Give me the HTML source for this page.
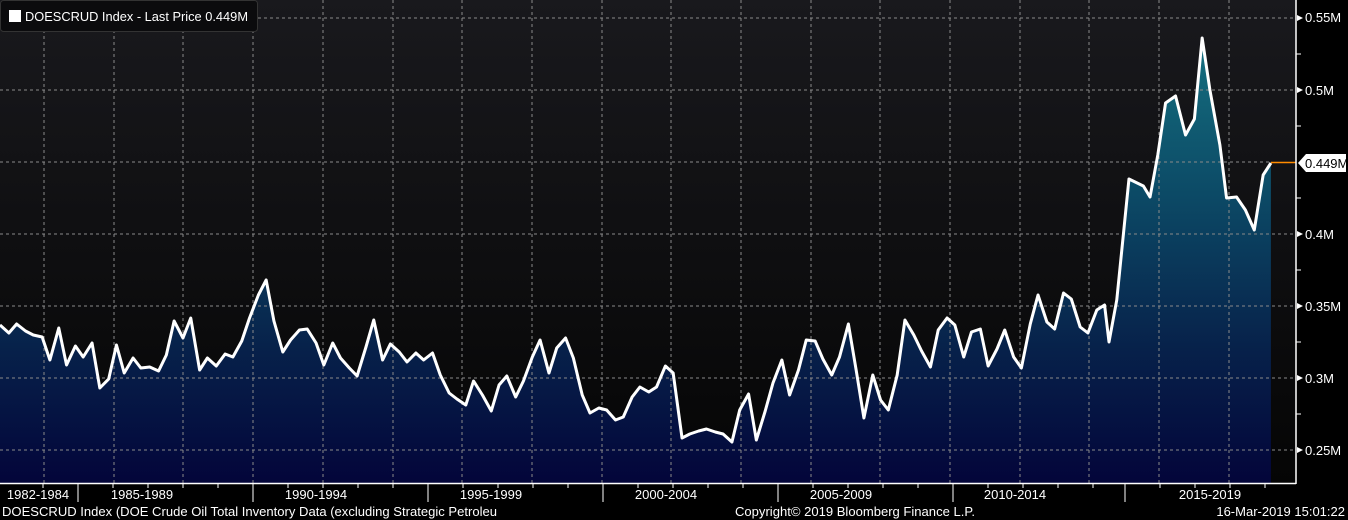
<!DOCTYPE html>
<html><head><meta charset="utf-8"><style>
html,body{margin:0;padding:0;background:#000;width:1348px;height:520px;overflow:hidden}
svg{display:block}
text{font-family:"Liberation Sans",sans-serif;font-size:13px;fill:#fff}
</style></head><body>
<svg width="1348" height="520" viewBox="0 0 1348 520" xmlns="http://www.w3.org/2000/svg">
<defs>
<linearGradient id="bg" x1="0" y1="0" x2="0" y2="1">
<stop offset="0" stop-color="#19191d"/><stop offset="1" stop-color="#050505"/></linearGradient>
<linearGradient id="fill" x1="0" y1="38" x2="0" y2="483" gradientUnits="userSpaceOnUse">
<stop offset="0" stop-color="#157080"/><stop offset="0.35" stop-color="#0c4a66"/><stop offset="0.7" stop-color="#07214a"/><stop offset="1" stop-color="#03053a"/></linearGradient>
</defs>
<rect x="0" y="0" width="1296" height="483" fill="url(#bg)"/>
<g transform="scale(1.109,1)">
<polygon fill="url(#fill)" points="0,483 0,325 8,333 15,324 23,331 30,335 38,337 45,360 53,328 60,365 68,346 75,357 83,343 90,388 98,379 105,345 112,373 120,358 127,368 135,367 143,371 150,355 157,321 165,338 172,318 180,370 187,358 195,366 203,354 210,357 218,341 225,318 233,295 240,280 247,321 255,352 262,340 270,330 277,329 285,343 292,365 300,343 307,358 315,368 322,376 330,347 337,320 345,360 352,344 360,352 367,362 375,353 382,360 390,353 397,375 405,393 412,399 420,405 427,381 435,395 443,411 450,385 457,376 465,397 472,381 480,357 487,340 495,373 502,348 510,338 517,358 525,395 532,413 540,408 547,410 555,420 562,417 570,397 577,387 585,392 592,387 600,366 607,373 615,438 622,434 630,431 637,429 645,432 652,434 660,442 667,410 675,394 682,440 690,411 697,383 705,360 712,395 720,370 727,340 735,341 742,359 750,375 757,357 765,324 772,370 779,418 787,375 794,400 801,410 809,375 816,320 824,335 831,351 839,367 846,330 854,318 861,325 869,357 876,332 884,329 891,366 899,349 906,330 914,357 921,368 929,324 936,295 944,322 951,329 959,293 966,299 974,327 981,333 989,310 996,305 1000,342 1007,300 1018,179 1031,186 1037,197 1044,155 1051,103 1060,96 1069,135 1077,119 1084,38 1091,90 1100,145 1106,198 1115,197 1123,210 1131,230 1139,175 1146,163 1146,483"/>
</g>
<g stroke="#8a8a8a" stroke-width="1" stroke-dasharray="3,3">
<line x1="0" y1="18" x2="1296" y2="18"/><line x1="0" y1="90" x2="1296" y2="90"/><line x1="0" y1="162" x2="1270" y2="162"/><line x1="0" y1="234" x2="1296" y2="234"/><line x1="0" y1="306" x2="1296" y2="306"/><line x1="0" y1="378" x2="1296" y2="378"/><line x1="0" y1="450" x2="1296" y2="450"/>
<line x1="44" y1="0" x2="44" y2="483"/><line x1="114" y1="0" x2="114" y2="483"/><line x1="183" y1="0" x2="183" y2="483"/><line x1="253" y1="0" x2="253" y2="483"/><line x1="323" y1="0" x2="323" y2="483"/><line x1="393" y1="0" x2="393" y2="483"/><line x1="462" y1="0" x2="462" y2="483"/><line x1="532" y1="0" x2="532" y2="483"/><line x1="602" y1="0" x2="602" y2="483"/><line x1="671" y1="0" x2="671" y2="483"/><line x1="741" y1="0" x2="741" y2="483"/><line x1="811" y1="0" x2="811" y2="483"/><line x1="880" y1="0" x2="880" y2="483"/><line x1="950" y1="0" x2="950" y2="483"/><line x1="1020" y1="0" x2="1020" y2="483"/><line x1="1089" y1="0" x2="1089" y2="483"/><line x1="1159" y1="0" x2="1159" y2="483"/><line x1="1229" y1="0" x2="1229" y2="483"/>
</g>
<g transform="scale(1.109,1)">
<polyline fill="none" stroke="#fff" stroke-width="3" vector-effect="non-scaling-stroke" stroke-linejoin="round" points="0,325 8,333 15,324 23,331 30,335 38,337 45,360 53,328 60,365 68,346 75,357 83,343 90,388 98,379 105,345 112,373 120,358 127,368 135,367 143,371 150,355 157,321 165,338 172,318 180,370 187,358 195,366 203,354 210,357 218,341 225,318 233,295 240,280 247,321 255,352 262,340 270,330 277,329 285,343 292,365 300,343 307,358 315,368 322,376 330,347 337,320 345,360 352,344 360,352 367,362 375,353 382,360 390,353 397,375 405,393 412,399 420,405 427,381 435,395 443,411 450,385 457,376 465,397 472,381 480,357 487,340 495,373 502,348 510,338 517,358 525,395 532,413 540,408 547,410 555,420 562,417 570,397 577,387 585,392 592,387 600,366 607,373 615,438 622,434 630,431 637,429 645,432 652,434 660,442 667,410 675,394 682,440 690,411 697,383 705,360 712,395 720,370 727,340 735,341 742,359 750,375 757,357 765,324 772,370 779,418 787,375 794,400 801,410 809,375 816,320 824,335 831,351 839,367 846,330 854,318 861,325 869,357 876,332 884,329 891,366 899,349 906,330 914,357 921,368 929,324 936,295 944,322 951,329 959,293 966,299 974,327 981,333 989,310 996,305 1000,342 1007,300 1018,179 1031,186 1037,197 1044,155 1051,103 1060,96 1069,135 1077,119 1084,38 1091,90 1100,145 1106,198 1115,197 1123,210 1131,230 1139,175 1146,163"/>
</g>
<line x1="1271" y1="162.5" x2="1296" y2="162.5" stroke="#ff8c00" stroke-width="1.5"/>
<rect x="1296" y="0" width="52" height="520" fill="#000"/>
<rect x="0" y="484" width="1348" height="36" fill="#000"/>
<line x1="1296" y1="0" x2="1296" y2="484" stroke="#fff" stroke-width="1.5"/>
<line x1="0" y1="483.5" x2="1296" y2="483.5" stroke="#fff" stroke-width="1.5"/>
<g stroke="#fff">
<line x1="1296" y1="54" x2="1301" y2="54"/><line x1="1296" y1="126" x2="1301" y2="126"/><line x1="1296" y1="198" x2="1301" y2="198"/><line x1="1296" y1="270" x2="1301" y2="270"/><line x1="1296" y1="342" x2="1301" y2="342"/><line x1="1296" y1="414" x2="1301" y2="414"/>
</g>
<g fill="#fff">
<polygon points="1297,15 1303,18 1297,21"/><polygon points="1297,87 1303,90 1297,93"/><polygon points="1297,231 1303,234 1297,237"/><polygon points="1297,303 1303,306 1297,309"/><polygon points="1297,375 1303,378 1297,381"/><polygon points="1297,447 1303,450 1297,453"/>
<polygon points="1298,163 1306,154 1346,154 1346,172 1306,172"/>
</g>
<g font-size="13">
<text x="1305" y="22">0.55M</text><text x="1305" y="95">0.5M</text><text x="1305" y="239">0.4M</text><text x="1305" y="311">0.35M</text><text x="1305" y="383">0.3M</text><text x="1305" y="455">0.25M</text>
<text x="1305" y="168" style="fill:#000">0.449M</text>
</g>
<g stroke="#fff">
<line x1="78" y1="484" x2="78" y2="502"/><line x1="253" y1="484" x2="253" y2="502"/><line x1="428" y1="484" x2="428" y2="502"/><line x1="603" y1="484" x2="603" y2="502"/><line x1="778" y1="484" x2="778" y2="502"/><line x1="953" y1="484" x2="953" y2="502"/><line x1="1125" y1="484" x2="1125" y2="502"/>
<line x1="43" y1="484" x2="43" y2="488"/><line x1="113" y1="484" x2="113" y2="488"/><line x1="148" y1="484" x2="148" y2="488"/><line x1="183" y1="484" x2="183" y2="488"/><line x1="218" y1="484" x2="218" y2="488"/><line x1="288" y1="484" x2="288" y2="488"/><line x1="323" y1="484" x2="323" y2="488"/><line x1="358" y1="484" x2="358" y2="488"/><line x1="393" y1="484" x2="393" y2="488"/><line x1="463" y1="484" x2="463" y2="488"/><line x1="498" y1="484" x2="498" y2="488"/><line x1="533" y1="484" x2="533" y2="488"/><line x1="568" y1="484" x2="568" y2="488"/><line x1="638" y1="484" x2="638" y2="488"/><line x1="673" y1="484" x2="673" y2="488"/><line x1="708" y1="484" x2="708" y2="488"/><line x1="743" y1="484" x2="743" y2="488"/><line x1="813" y1="484" x2="813" y2="488"/><line x1="848" y1="484" x2="848" y2="488"/><line x1="883" y1="484" x2="883" y2="488"/><line x1="918" y1="484" x2="918" y2="488"/><line x1="988" y1="484" x2="988" y2="488"/><line x1="1023" y1="484" x2="1023" y2="488"/><line x1="1058" y1="484" x2="1058" y2="488"/><line x1="1093" y1="484" x2="1093" y2="488"/><line x1="1160" y1="484" x2="1160" y2="488"/><line x1="1195" y1="484" x2="1195" y2="488"/><line x1="1230" y1="484" x2="1230" y2="488"/><line x1="1265" y1="484" x2="1265" y2="488"/>
</g>
<g font-size="13" text-anchor="middle">
<text x="38" y="499">1982-1984</text><text x="142" y="499">1985-1989</text><text x="316" y="499">1990-1994</text><text x="491" y="499">1995-1999</text><text x="666" y="499">2000-2004</text><text x="841" y="499">2005-2009</text><text x="1015" y="499">2010-2014</text><text x="1210" y="499">2015-2019</text>
</g>
<text x="2" y="516" font-size="13" textLength="495" lengthAdjust="spacingAndGlyphs">DOESCRUD Index (DOE Crude Oil Total Inventory Data (excluding Strategic Petroleu</text>
<text x="735" y="516" font-size="13" textLength="240" lengthAdjust="spacingAndGlyphs">Copyright© 2019 Bloomberg Finance L.P.</text>
<text x="1345" y="516" font-size="13" text-anchor="end">16-Mar-2019 15:01:22</text>
<rect x="0.5" y="0.5" width="257" height="31" rx="3" fill="#0b0b0d" stroke="#333"/>
<rect x="9" y="10" width="12" height="12" fill="#fff"/>
<text x="25" y="21" font-size="13.5" textLength="223" lengthAdjust="spacingAndGlyphs">DOESCRUD Index - Last Price 0.449M</text>
</svg>
</body></html>
